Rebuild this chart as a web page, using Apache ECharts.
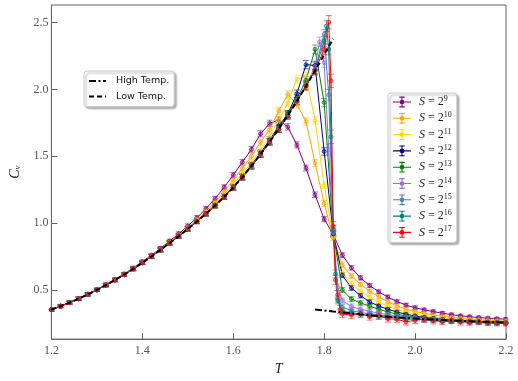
<!DOCTYPE html>
<html><head><meta charset="utf-8">
<script src="https://cdn.jsdelivr.net/npm/echarts@6/dist/echarts.min.js"></script>
<style>html,body{margin:0;padding:0;background:#fff}#c{width:518px;height:381px}</style>
</head><body><div id="c"></div>
<script>
// Temperature grid (coarse)
const temps = [1.20,1.22,1.24,1.26,1.28,1.30,1.32,1.34,1.36,1.38,1.40,1.42,1.44,1.46,1.48,1.50,1.52,1.54,1.56,1.58,1.60,1.62,1.64,1.66,1.68,1.70,1.72,1.74,1.76,1.78,1.80,1.82,
  1.84,1.86,1.88,1.90,1.92,1.94,1.96,1.98,2.00,2.02,2.04,2.06,2.08,2.10,2.12,2.14,2.16,2.18,2.20];

const sizeExps = ['9','10','11','12','13','14','15','16','17'];
const sizeColors = ['#800080','#FFA500','#FFD700','#000080','#008000','#9370DB','#4682B4','#008080','#FF0000'];

const cv_S9 = [0.354,0.380,0.407,0.437,0.469,0.503,0.540,0.579,0.620,0.664,0.711,0.760,0.811,0.865,0.920,0.978,1.040,1.108,1.183,1.268,1.360,1.455,1.552,1.668,1.746,1.772,1.720,1.585,1.412,1.212,1.030,0.915,
  0.760,0.665,0.590,0.533,0.486,0.447,0.413,0.386,0.367,0.351,0.338,0.326,0.315,0.306,0.299,0.293,0.288,0.284,0.281];
const err_S9 = [0.010,0.010,0.010,0.011,0.011,0.011,0.012,0.012,0.012,0.013,0.013,0.014,0.014,0.015,0.015,0.016,0.016,0.017,0.018,0.019,0.020,0.021,0.022,0.023,0.024,0.024,0.024,0.023,0.022,0.021,0.020,0.019,
  0.018,0.017,0.016,0.016,0.015,0.015,0.014,0.014,0.014,0.013,0.013,0.013,0.012,0.012,0.012,0.012,0.011,0.011,0.011];

const cv_S10 = [0.353,0.379,0.406,0.435,0.467,0.501,0.537,0.576,0.617,0.660,0.706,0.754,0.804,0.856,0.910,0.966,1.025,1.089,1.158,1.236,1.322,1.410,1.500,1.605,1.700,1.840,1.962,1.889,1.760,1.450,1.147,0.890,
  0.685,0.605,0.540,0.490,0.448,0.411,0.381,0.356,0.339,0.325,0.313,0.303,0.295,0.288,0.282,0.277,0.273,0.270,0.267];
const err_S10 = [0.010,0.010,0.010,0.011,0.011,0.011,0.012,0.012,0.012,0.013,0.013,0.014,0.014,0.015,0.015,0.016,0.016,0.017,0.018,0.019,0.020,0.021,0.022,0.023,0.024,0.026,0.027,0.027,0.026,0.025,0.023,0.021,
  0.019,0.018,0.017,0.016,0.015,0.015,0.014,0.014,0.014,0.013,0.013,0.013,0.012,0.012,0.012,0.012,0.011,0.011,0.011];

const cv_S11 = [0.352,0.378,0.405,0.435,0.466,0.500,0.537,0.575,0.615,0.659,0.704,0.752,0.801,0.853,0.906,0.962,1.020,1.080,1.145,1.215,1.290,1.368,1.452,1.545,1.645,1.770,1.900,2.077,2.097,1.768,1.283,0.900,
  0.625,0.548,0.489,0.446,0.408,0.379,0.355,0.335,0.320,0.308,0.298,0.290,0.283,0.277,0.272,0.268,0.265,0.262,0.260];
const err_S11 = [0.010,0.010,0.010,0.011,0.011,0.011,0.012,0.012,0.012,0.013,0.013,0.014,0.014,0.015,0.015,0.016,0.016,0.017,0.018,0.019,0.020,0.021,0.022,0.023,0.024,0.026,0.027,0.029,0.030,0.028,0.025,0.022,
  0.019,0.018,0.017,0.016,0.015,0.015,0.014,0.014,0.014,0.013,0.013,0.013,0.012,0.012,0.012,0.012,0.011,0.011,0.011];

const cv_S12 = [0.352,0.378,0.405,0.434,0.466,0.500,0.536,0.574,0.614,0.658,0.703,0.751,0.800,0.851,0.904,0.958,1.014,1.073,1.135,1.201,1.272,1.350,1.435,1.525,1.622,1.725,1.816,1.968,2.185,2.180,1.536,0.920,
  0.610,0.515,0.457,0.410,0.380,0.355,0.335,0.318,0.305,0.295,0.287,0.280,0.275,0.270,0.266,0.263,0.260,0.258,0.256];
const err_S12 = [0.010,0.010,0.010,0.011,0.011,0.011,0.012,0.012,0.012,0.013,0.013,0.014,0.014,0.015,0.015,0.016,0.016,0.017,0.018,0.019,0.020,0.021,0.022,0.023,0.024,0.025,0.026,0.028,0.031,0.031,0.028,0.022,
  0.019,0.018,0.017,0.016,0.015,0.015,0.014,0.014,0.014,0.013,0.013,0.013,0.012,0.012,0.012,0.012,0.011,0.011,0.011];

const cv_S13 = [0.351,0.377,0.405,0.434,0.466,0.500,0.536,0.574,0.614,0.657,0.703,0.750,0.799,0.851,0.903,0.957,1.013,1.071,1.133,1.198,1.268,1.346,1.430,1.519,1.612,1.710,1.815,1.930,2.070,2.300,1.902,0.925,
  0.500,0.432,0.402,0.379,0.355,0.336,0.318,0.306,0.297,0.290,0.283,0.278,0.273,0.269,0.265,0.262,0.259,0.257,0.255];
const err_S13 = [0.010,0.010,0.010,0.011,0.011,0.011,0.012,0.012,0.012,0.013,0.013,0.014,0.014,0.015,0.015,0.016,0.016,0.017,0.018,0.019,0.020,0.021,0.022,0.023,0.024,0.025,0.026,0.027,0.029,0.033,0.031,0.024,
  0.019,0.018,0.017,0.016,0.015,0.015,0.014,0.014,0.014,0.013,0.013,0.013,0.012,0.012,0.012,0.012,0.011,0.011,0.011];

const cv_S14 = [0.351,0.378,0.405,0.434,0.466,0.500,0.536,0.574,0.614,0.657,0.703,0.750,0.799,0.850,0.902,0.956,1.012,1.070,1.131,1.197,1.267,1.344,1.428,1.516,1.609,1.706,1.808,1.918,2.035,2.170,2.200,0.930,
  0.420,0.376,0.355,0.340,0.326,0.315,0.306,0.298,0.292,0.286,0.280,0.276,0.271,0.267,0.263,0.260,0.258,0.256,0.254];
const err_S14 = [0.010,0.010,0.010,0.011,0.011,0.011,0.012,0.012,0.012,0.013,0.013,0.014,0.014,0.015,0.015,0.016,0.016,0.017,0.018,0.019,0.020,0.021,0.022,0.023,0.024,0.025,0.026,0.027,0.029,0.031,0.034,0.026,
  0.020,0.019,0.018,0.017,0.016,0.015,0.015,0.014,0.014,0.014,0.013,0.013,0.013,0.012,0.012,0.012,0.012,0.011,0.011];
const fine_S14 = [[1.79,2.357,0.035],[1.81,1.550,0.040],[1.83,0.520,0.025]];

const cv_S15 = [0.352,0.378,0.405,0.434,0.466,0.500,0.536,0.574,0.614,0.657,0.703,0.750,0.799,0.850,0.902,0.956,1.012,1.070,1.131,1.196,1.266,1.343,1.427,1.515,1.607,1.704,1.806,1.913,2.027,2.150,2.413,0.935,
  0.370,0.345,0.331,0.322,0.314,0.305,0.298,0.292,0.287,0.281,0.277,0.272,0.268,0.265,0.262,0.259,0.256,0.254,0.252];
const err_S15 = [0.010,0.010,0.010,0.011,0.011,0.011,0.012,0.012,0.012,0.013,0.013,0.014,0.014,0.015,0.015,0.016,0.016,0.017,0.018,0.019,0.020,0.021,0.022,0.023,0.024,0.025,0.026,0.027,0.029,0.031,0.036,0.028,
  0.020,0.019,0.018,0.017,0.016,0.016,0.015,0.015,0.014,0.014,0.014,0.013,0.013,0.013,0.012,0.012,0.012,0.012,0.011];
const fine_S15 = [[1.81,1.960,0.040],[1.83,0.430,0.025]];

const cv_S16 = [0.352,0.378,0.405,0.434,0.466,0.500,0.536,0.574,0.614,0.657,0.703,0.750,0.799,0.850,0.902,0.956,1.012,1.070,1.131,1.196,1.266,1.343,1.427,1.515,1.607,1.703,1.805,1.912,2.026,2.145,2.360,0.950,
  0.340,0.330,0.318,0.310,0.302,0.296,0.290,0.280,0.283,0.276,0.272,0.266,0.262,0.266,0.258,0.255,0.252,0.250,0.249];
const err_S16 = [0.010,0.010,0.010,0.011,0.011,0.011,0.012,0.012,0.012,0.013,0.013,0.014,0.014,0.015,0.015,0.016,0.016,0.017,0.018,0.019,0.020,0.021,0.022,0.023,0.024,0.025,0.026,0.027,0.029,0.031,0.036,0.030,
  0.022,0.020,0.019,0.018,0.018,0.017,0.017,0.016,0.016,0.015,0.015,0.015,0.014,0.014,0.014,0.013,0.013,0.013,0.013];
const fine_S16 = [[1.805,2.474,0.040],[1.81,2.300,0.040],[1.815,1.646,0.050],[1.825,0.620,0.030],[1.83,0.420,0.025]];

const cv_S17 = [0.352,0.378,0.405,0.434,0.466,0.500,0.536,0.574,0.614,0.657,0.703,0.750,0.799,0.850,0.902,0.956,1.012,1.070,1.131,1.196,1.266,1.343,1.427,1.515,1.607,1.703,1.805,1.912,2.025,2.142,2.300,0.976,
  0.320,0.312,0.322,0.300,0.306,0.285,0.280,0.262,0.272,0.281,0.270,0.265,0.272,0.260,0.258,0.262,0.255,0.252,0.250];
const err_S17 = [0.011,0.011,0.011,0.012,0.012,0.012,0.013,0.013,0.013,0.014,0.014,0.015,0.015,0.016,0.016,0.017,0.017,0.018,0.019,0.020,0.021,0.022,0.023,0.024,0.025,0.026,0.027,0.028,0.030,0.033,0.040,0.035,
  0.028,0.027,0.027,0.026,0.026,0.025,0.025,0.025,0.024,0.024,0.024,0.023,0.023,0.023,0.022,0.022,0.022,0.021,0.021];
const fine_S17 = [[1.81,2.503,0.050],[1.815,2.065,0.050],[1.825,0.574,0.035],[1.83,0.464,0.030],[1.835,0.354,0.030]];

// Theory curves
const lowT_T = [1.20,1.22,1.24,1.26,1.28,1.30,1.32,1.34,1.36,1.38,1.40,1.42,1.44,1.46,1.48,1.50,1.52,1.54,1.56,1.58,1.60,1.62,1.64,1.66,1.68,1.70,1.72,1.74,1.76,1.78,1.80,1.82];
const lowT_C = [0.352,0.378,0.405,0.434,0.466,0.500,0.536,0.574,0.614,0.657,0.703,0.750,0.799,0.850,0.902,0.956,1.012,1.070,1.131,1.196,1.266,1.343,1.427,1.515,1.607,1.703,1.805,1.912,2.025,2.140,2.260,2.380];
const highT_T = [1.78,1.80,1.82,1.84,1.86,1.88,1.90,1.92,1.94,1.96,1.98,2.00,2.02,2.04,2.06,2.08,2.10,2.12,2.14,2.16,2.18,2.20];
const highT_C = [0.354,0.346,0.338,0.331,0.324,0.317,0.311,0.305,0.300,0.295,0.290,0.286,0.282,0.278,0.275,0.272,0.269,0.266,0.264,0.261,0.259,0.257];

const xTicks = [1.2,1.4,1.6,1.8,2.0,2.2];
const yTicks = [0.5,1.0,1.5,2.0,2.5];

const seriesVals = [cv_S9,cv_S10,cv_S11,cv_S12,cv_S13,cv_S14,cv_S15,cv_S16,cv_S17];
const seriesErrs = [err_S9,err_S10,err_S11,err_S12,err_S13,err_S14,err_S15,err_S16,err_S17];
const seriesFine = [[],[],[],[],[],fine_S14,fine_S15,fine_S16,fine_S17];

function hexA(hex, a){
  const r=parseInt(hex.slice(1,3),16),g=parseInt(hex.slice(3,5),16),b=parseInt(hex.slice(5,7),16);
  return 'rgba('+r+','+g+','+b+','+a+')';
}
function buildPts(vals, errs, fine){
  const pts=[];
  for(let i=0;i<temps.length;i++) pts.push([temps[i], vals[i], errs[i]]);
  fine.forEach(p=>pts.push(p));
  pts.sort((a,b)=>a[0]-b[0]);
  return pts;
}
function errRenderer(color){
  return function(params, api){
    const x=api.value(0), y=api.value(1), e=api.value(2);
    const t=api.coord([x,y+e]), b=api.coord([x,y-e]);
    const cw=3;
    const st={stroke:hexA(color,0.55), lineWidth:1};
    return {type:'group', children:[
      {type:'line', shape:{x1:t[0],y1:t[1],x2:b[0],y2:b[1]}, style:st},
      {type:'line', shape:{x1:t[0]-cw,y1:t[1],x2:t[0]+cw,y2:t[1]}, style:st},
      {type:'line', shape:{x1:b[0]-cw,y1:b[1],x2:b[0]+cw,y2:b[1]}, style:st}
    ]};
  };
}
const legendIcon = 'path://M0,6.4 L20,6.4 L20,7.6 L0,7.6 Z M9.4,1 L10.6,1 L10.6,13 L9.4,13 Z M7,1 L13,1 L13,2.2 L7,2.2 Z M7,11.8 L13,11.8 L13,13 L7,13 Z M12.6,7 A2.6,2.6 0 1 1 7.4,7 A2.6,2.6 0 1 1 12.6,7 Z';

const series=[];
const legendData=[];
sizeExps.forEach((ex,k)=>{
  const color=sizeColors[k];
  const name='S'+ex;
  const pts=buildPts(seriesVals[k], seriesErrs[k], seriesFine[k]);
  series.push({
    type:'line', name:name, data:pts.map(p=>[p[0],p[1]]),
    symbol:'circle', symbolSize:4, clip:true,
    lineStyle:{color:color, width:1},
    itemStyle:{color:hexA(color,0.4), borderColor:hexA(color,0.9), borderWidth:0.8},
    emphasis:{disabled:true}, z:2
  });
  series.push({
    type:'custom', name:name, data:pts, encode:{x:0,y:1}, clip:true,
    itemStyle:{color:color},
    renderItem:errRenderer(color), z:2
  });
  legendData.push({name:name, icon:legendIcon, itemStyle:{color:color, borderWidth:0, opacity:1}});
});
series.push({
  type:'line', name:'Low Temp.', data:lowT_T.map((t,i)=>[t,lowT_C[i]]), symbol:'none', clip:true,
  lineStyle:{color:'#000', width:2, type:[5,3]}, itemStyle:{color:'#000'}, z:3
});
series.push({
  type:'line', name:'High Temp.', data:highT_T.map((t,i)=>[t,highT_C[i]]), symbol:'none', clip:true,
  lineStyle:{color:'#000', width:2, type:[7,2.5,2,2.5]}, itemStyle:{color:'#000'}, z:3
});

const chart=echarts.init(document.getElementById('c'), null, {renderer:'canvas'});
chart.setOption({
  animation:false,
  backgroundColor:'#fff',
  grid:{left:37, right:12, top:5, bottom:34, show:true, borderColor:'#666', borderWidth:1},
  xAxis:{type:'value', min:1.2, max:2.2, interval:0.2,
    axisLine:{lineStyle:{color:'#666'}},
    axisTick:{inside:true, length:6, lineStyle:{color:'#666'}},
    axisLabel:{color:'#555', fontFamily:'Liberation Serif', fontSize:12, margin:6, formatter:v=>v.toFixed(1)},
    splitLine:{show:false},
    name:'T', nameLocation:'middle', nameGap:21,
    nameTextStyle:{fontFamily:'Liberation Serif', fontStyle:'italic', fontSize:14, color:'#222'}
  },
  yAxis:{type:'value', min:0.132, max:2.632,
    axisLine:{lineStyle:{color:'#666'}},
    axisTick:{inside:true, length:6, lineStyle:{color:'#666'}, customValues:yTicks},
    axisLabel:{color:'#555', fontFamily:'Liberation Serif', fontSize:12, margin:3, customValues:yTicks, formatter:v=>v.toFixed(1)},
    splitLine:{show:false},
    name:'{c|C}{v|v}', nameLocation:'middle', nameGap:27, nameRotate:90,
    nameTextStyle:{rich:{
      c:{fontFamily:'Liberation Serif', fontStyle:'italic', fontSize:14, color:'#222'},
      v:{fontFamily:'Liberation Serif', fontStyle:'italic', fontSize:9, color:'#222', verticalAlign:'bottom', padding:[6,0,0,0]}
    }}
  },
  legend:[
    {data:[{name:'High Temp.', itemStyle:{opacity:0}},{name:'Low Temp.', itemStyle:{opacity:0}}], orient:'vertical', left:84, top:71,
      itemWidth:17, itemHeight:10, itemGap:5.5, selectedMode:false,
      formatter:n=>'{a|'+n+'}',
      textStyle:{rich:{a:{fontFamily:'DejaVu Sans', fontSize:9.5, color:'#111', padding:[0,0,0,5], lineHeight:11}}},
      backgroundColor:'#fff', borderColor:'#ccc', borderWidth:1, borderRadius:3,
      padding:[5,5,5,4], shadowColor:'rgba(0,0,0,0.3)', shadowBlur:2, shadowOffsetX:2, shadowOffsetY:2
    },
    {data:legendData, orient:'vertical', left:388, top:93,
      itemWidth:18, itemHeight:13, itemGap:3.3, selectedMode:false,
      formatter:n=>'{i|S} = 2{p|'+n.slice(1)+'}',
      textStyle:{color:'#222', fontFamily:'Liberation Serif', fontSize:12, rich:{
        i:{fontFamily:'Liberation Serif', fontStyle:'italic', fontSize:12, color:'#222', padding:[0,0,0,3], lineHeight:14},
        p:{fontFamily:'Liberation Serif', fontSize:8, color:'#222', verticalAlign:'top', lineHeight:8}
      }},
      backgroundColor:'#fff', borderColor:'#ccc', borderWidth:1, borderRadius:3,
      padding:[2,5,4,5], shadowColor:'rgba(0,0,0,0.3)', shadowBlur:2, shadowOffsetX:2, shadowOffsetY:2
    }
  ],
  series:series
});
</script></body></html>
